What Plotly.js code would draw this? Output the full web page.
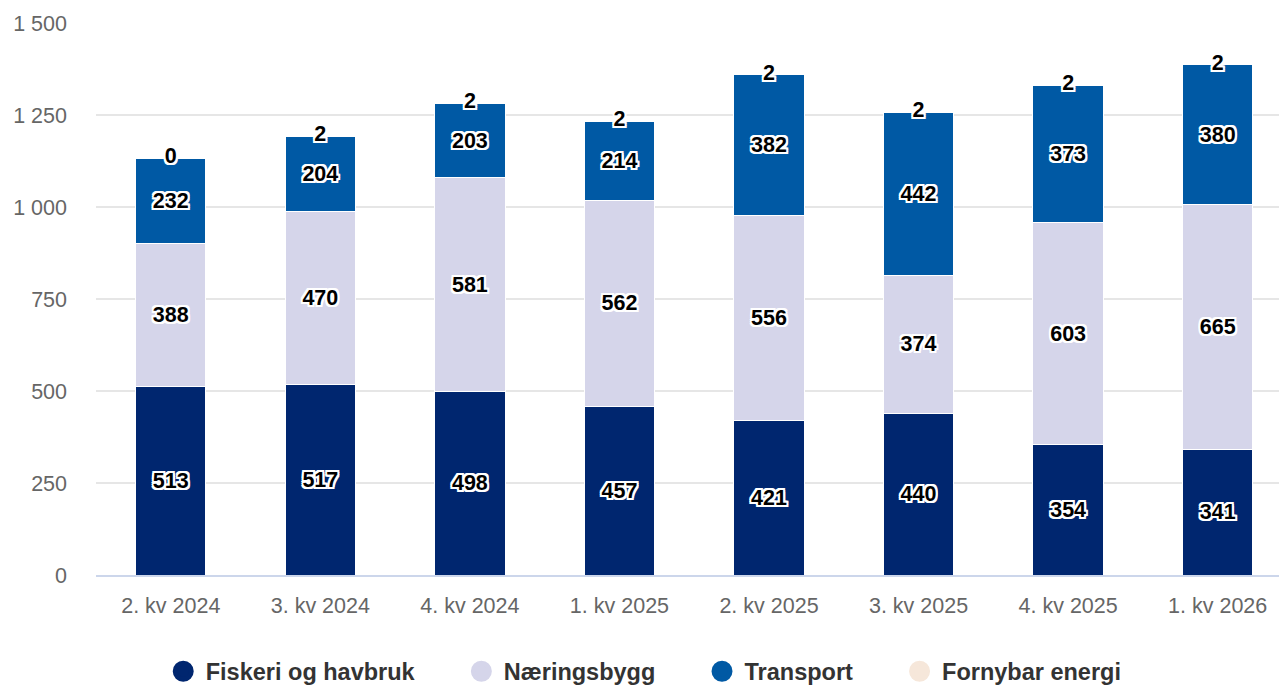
<!DOCTYPE html>
<html>
<head>
<meta charset="utf-8">
<script src="https://cdn.plot.ly/plotly-3.0.1.min.js"></script>
<style>
	html, body { margin: 0; padding: 0; background: #fff; }
	#chart { width: 1279px; height: 686px; }
</style>
</head>
<body>
<div id="chart"></div>
<script>
var quarters = ["2. kv 2024", "3. kv 2024", "4. kv 2024", "1. kv 2025", "2. kv 2025", "3. kv 2025", "4. kv 2025", "1. kv 2026"];
var fiskeri = [513, 517, 498, 457, 421, 440, 354, 341];
var naering = [388, 470, 581, 562, 556, 374, 603, 665];
var transport = [232, 204, 203, 214, 382, 442, 373, 380];
var fornybar = [0, 2, 2, 2, 2, 2, 2, 2];

var seriesNames = ["Fiskeri og havbruk", "Næringsbygg", "Transport", "Fornybar energi"];
var seriesColors = ["#00266f", "#d5d5ea", "#0059a4", "#f6e7da"];
var seriesValues = [fiskeri, naering, transport, fornybar];

// white halo round the black value labels
var outline = [
	"-2px -2px 0 #fff", "2px -2px 0 #fff", "-2px 2px 0 #fff", "2px 2px 0 #fff",
	"0 -2px 0 #fff", "0 2px 0 #fff", "-2px 0 0 #fff", "2px 0 0 #fff",
	"-1px -2px 0 #fff", "1px -2px 0 #fff", "-1px 2px 0 #fff", "1px 2px 0 #fff"
].join(", ");
var labelFont = { family: "Liberation Sans, Arial, sans-serif", size: 21.5, color: "#000", weight: 700, shadow: outline };

var data = [];
for (var i = 0; i < seriesNames.length; i++) {
	var isTop = i === seriesNames.length - 1;
	data.push({
		type: "bar",
		x: quarters,
		y: seriesValues[i],
		name: seriesNames[i],
		showlegend: false,
		marker: { color: seriesColors[i], line: { color: "#ffffff", width: 1 } },
		text: isTop ? null : seriesValues[i].map(String),
		textposition: isTop ? "none" : "inside",
		insidetextanchor: "middle",
		constraintext: "none",
		textangle: 0,
		textfont: labelFont,
		hoverinfo: "skip"
	});
}

// the tiny top series is labelled on the stack top
var totals = quarters.map(function (q, k) {
	return fiskeri[k] + naering[k] + transport[k] + fornybar[k];
});
data.push({
	type: "scatter",
	mode: "text",
	x: quarters,
	y: totals,
	text: fornybar.map(String),
	textposition: "middle center",
	textfont: labelFont,
	showlegend: false,
	cliponaxis: false,
	hoverinfo: "skip"
});

// legend entries with round markers (padding after the first three names)
var pad = "\u00a0\u00a0\u00a0\u00a0\u00a0\u00a0";
for (var j = 0; j < seriesNames.length; j++) {
	data.push({
		type: "scatter",
		mode: "markers",
		x: [null],
		y: [null],
		name: seriesNames[j] + (j < seriesNames.length - 1 ? pad : ""),
		marker: { color: seriesColors[j], size: 16, symbol: "circle", line: { color: seriesColors[j], width: 5 } },
		hoverinfo: "skip"
	});
}

var layout = {
	width: 1279,
	height: 686,
	barmode: "stack",
	bargap: 0.53,
	separators: ", ",
	margin: { l: 96, r: 0, t: 23, b: 111, autoexpand: false },
	paper_bgcolor: "#fff",
	plot_bgcolor: "#fff",
	font: { family: "Liberation Sans, Arial, sans-serif", color: "#666" },
	xaxis: {
		type: "category",
		range: [-0.5, 7.41],
		showgrid: false,
		showline: true,
		linecolor: "#ccd6eb",
		linewidth: 2,
		ticks: "",
		tickfont: { size: 21.5, color: "#666" },
		ticklabelstandoff: 10,
		fixedrange: true
	},
	yaxis: {
		range: [0, 1500],
		tickvals: [0, 250, 500, 750, 1000, 1250, 1500],
		tickformat: ",d",
		gridcolor: "#e6e6e6",
		gridwidth: 2,
		zeroline: false,
		showline: false,
		ticks: "",
		tickfont: { size: 21.5, color: "#666" },
		ticklabelstandoff: 28,
		fixedrange: true
	},
	legend: {
		orientation: "h",
		traceorder: "normal",
		x: 0.463,
		xanchor: "center",
		y: -0.135,
		yanchor: "top",
		font: { size: 23.5, color: "#333", weight: 700 },
		itemsizing: "trace",
		itemwidth: 35
	},
	showlegend: true
};

var config = { displayModeBar: false, staticPlot: true };

Plotly.newPlot("chart", data, layout, config);
</script>
</body>
</html>
